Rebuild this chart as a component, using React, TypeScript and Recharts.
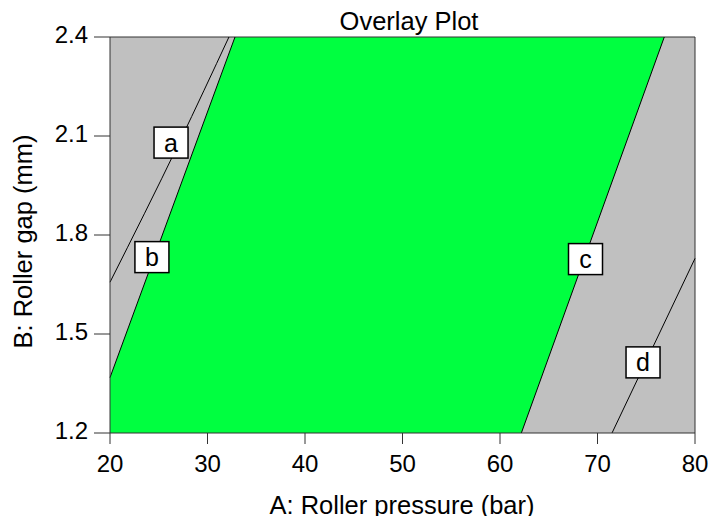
import React from 'react';
import { ComposedChart, XAxis, YAxis, Area, Line, Scatter, CartesianGrid, ReferenceLine } from 'recharts';

const xTicks = [20, 30, 40, 50, 60, 70, 80];
const yTicks = [1.2, 1.5, 1.8, 2.1, 2.4];
const xDomain: [number, number] = [20, 80];
const yDomain: [number, number] = [1.2, 2.4];

const lineA = [{ x: 20, y: 1.657 }, { x: 27.1, y: 2.08 }, { x: 32.2, y: 2.4 }];
const lineB = [{ x: 20, y: 1.368 }, { x: 32.82, y: 2.4 }];
const lineC = [{ x: 62.19, y: 1.2 }, { x: 76.85, y: 2.4 }];
const lineD = [{ x: 71.49, y: 1.2 }, { x: 80, y: 1.729 }];
const labelPoints = [
  { x: 26.26, y: 2.08, name: 'a' },
  { x: 24.3, y: 1.733, name: 'b' },
  { x: 68.77, y: 1.727, name: 'c' },
  { x: 74.67, y: 1.414, name: 'd' },
];

const feasible = [
  { x: lineB[0].x, range: [yDomain[0], lineB[0].y] },
  { x: lineB[1].x, range: [yDomain[0], yDomain[1]] },
  { x: lineC[0].x, range: [yDomain[0], yDomain[1]] },
  { x: lineC[1].x, range: [lineC[1].y, yDomain[1]] },
];

const FONT = '"Liberation Sans", Arial, sans-serif';
const AXIS = '#333';

const LabelBox = (props: any) => {
  const { cx, cy, payload } = props;
  if (cx == null || cy == null) return null;
  return (
    <g>
      <rect x={cx - 17} y={cy - 15.5} width={34} height={31} fill="#fff" stroke="#000" strokeWidth={1.5} />
      <text x={cx} y={cy + 9} textAnchor="middle" fontSize={25} fontFamily={FONT} fill="#000">
        {payload.name}
      </text>
    </g>
  );
};

export default function App() {
  return (
    <div style={{ position: 'absolute', left: 0, top: 0, width: 711, height: 516, background: '#fff', fontFamily: FONT }}>
      <ComposedChart
        width={711}
        height={516}
        data={feasible}
        margin={{ top: 37, right: 16, bottom: 43, left: 50 }}
      >
        <CartesianGrid horizontal={false} vertical={false} fill="#c0c0c0" fillOpacity={1} />
        <XAxis
          dataKey="x"
          type="number"
          domain={xDomain}
          ticks={xTicks}
          height={40}
          tickSize={11}
          tickMargin={11}
          interval={0}
          stroke={AXIS}
          axisLine={{ stroke: AXIS }}
          tickLine={{ stroke: AXIS }}
          tick={{ fontSize: 24, fill: '#000', fontFamily: FONT }}
        />
        <YAxis
          dataKey="y"
          type="number"
          domain={yDomain}
          ticks={yTicks}
          width={60}
          tickSize={16}
          tickMargin={6}
          interval={0}
          stroke={AXIS}
          axisLine={{ stroke: AXIS }}
          tickLine={{ stroke: AXIS }}
          tickFormatter={(v: number) => v.toFixed(1)}
          tick={{ fontSize: 24, fill: '#000', fontFamily: FONT, dy: -3 }}
        />
        <Area
          type="linear"
          dataKey="range"
          fill="#00ff40"
          fillOpacity={1}
          stroke="none"
          isAnimationActive={false}
          activeDot={false}
        />
        <ReferenceLine y={yDomain[1]} stroke={AXIS} />
        <ReferenceLine x={xDomain[1]} stroke={AXIS} />
        <Line data={lineA} dataKey="y" type="monotone" stroke="#000" strokeWidth={1} dot={false} activeDot={false} isAnimationActive={false} />
        <Line data={lineB} dataKey="y" type="linear" stroke="#000" strokeWidth={1} dot={false} activeDot={false} isAnimationActive={false} />
        <Line data={lineC} dataKey="y" type="linear" stroke="#000" strokeWidth={1} dot={false} activeDot={false} isAnimationActive={false} />
        <Line data={lineD} dataKey="y" type="linear" stroke="#000" strokeWidth={1} dot={false} activeDot={false} isAnimationActive={false} />
        <Scatter data={labelPoints} dataKey="y" shape={LabelBox} isAnimationActive={false} />
      </ComposedChart>
      <svg width={711} height={516} style={{ position: 'absolute', left: 0, top: 0, pointerEvents: 'none' }}>
        <text x={409} y={30} textAnchor="middle" fontSize={25.5} fontFamily={FONT} fill="#000">Overlay Plot</text>
        <text x={402} y={514} textAnchor="middle" fontSize={25.5} fontFamily={FONT} fill="#000">A: Roller pressure (bar)</text>
        <text x={32} y={241.5} textAnchor="middle" fontSize={25.5} fontFamily={FONT} fill="#000" transform="rotate(-90, 32, 241.5)">B: Roller gap (mm)</text>
      </svg>
    </div>
  );
}
